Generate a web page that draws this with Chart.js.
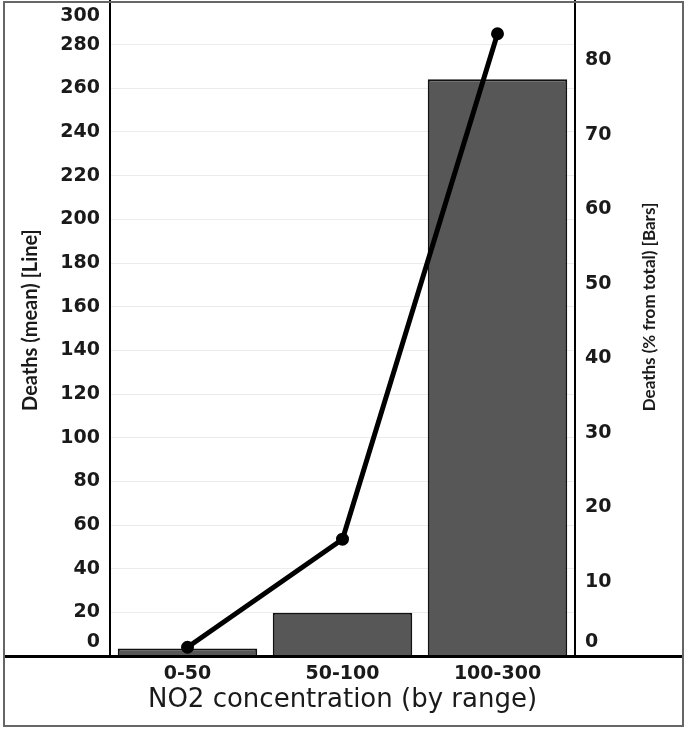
<!DOCTYPE html>
<html>
<head>
<meta charset="utf-8">
<script src="https://cdn.jsdelivr.net/npm/chart.js@4"></script>
<style>
  html, body { margin: 0; padding: 0; background: #fff; }
  #wrap { position: relative; width: 685px; height: 729px; overflow: hidden; }
  #c { position: absolute; left: 0; top: -8px; }
  #frame { position: absolute; left: 3px; top: 1px; width: 681px; height: 726px; box-sizing: border-box; border: 2px solid #666; pointer-events: none; }
  #baseline { position: absolute; left: 4px; top: 655px; width: 679px; height: 3px; background: #000; }
</style>
</head>
<body>
<div id="wrap">
  <canvas id="c" width="685" height="737"></canvas>
  <div id="baseline"></div>
  <div id="frame"></div>
</div>
<script>
// ---- data ----
const categories = ['0-50', '50-100', '100-300'];
const deathsMeanLine = [4, 53.5, 285];      // left axis
const deathsPercentBars = [1.0, 5.8, 77.5]; // right axis
const leftTicks = [0, 20, 40, 60, 80, 100, 120, 140, 160, 180, 200, 220, 240, 260, 280, 300];
const rightTicks = [0, 10, 20, 30, 40, 50, 60, 70, 80];
const leftTitle = 'Deaths (mean) [Line]';
const rightTitle = 'Deaths (% from total) [Bars]';
const xTitle = 'NO2 concentration (by range)';

const TXT = '#1a1a1a';
const tickFamily = '"DejaVu Sans", sans-serif';
const titleFamily = 'Lato, "Noto Sans", sans-serif';

function fixWidth(w) {
  return function (scale) { scale.width = w; scale.paddingTop = 0; scale.paddingBottom = 0; };
}

// axis titles that read bottom-to-top on both sides
const axisTitlePlugin = {
  id: 'axisTitles',
  afterDraw(chart) {
    const ctx = chart.ctx;
    const draw = (text, x, y, size) => {
      ctx.save();
      ctx.translate(x, y);
      ctx.rotate(-Math.PI / 2);
      ctx.font = 'bold ' + size + 'px ' + titleFamily;
      ctx.fillStyle = TXT;
      ctx.textAlign = 'center';
      ctx.textBaseline = 'middle';
      ctx.fillText(text, 0, 0);
      ctx.restore();
    };
    // canvas is shifted up by 8px in the page
    draw(leftTitle, 31, 320 + 8, 20);
    draw(rightTitle, 650, 307 + 8, 17);
  }
};

new Chart(document.getElementById('c'), {
  data: {
    labels: categories,
    datasets: [
      {
        type: 'line',
        label: 'Deaths (mean)',
        data: deathsMeanLine,
        yAxisID: 'yL',
        borderColor: '#000',
        borderWidth: 5,
        pointRadius: 4,
        pointBackgroundColor: '#000',
        pointBorderColor: '#000',
        tension: 0,
        order: 0
      },
      {
        type: 'bar',
        label: 'Deaths (%)',
        data: deathsPercentBars,
        yAxisID: 'yR',
        backgroundColor: '#575757',
        borderColor: '#111',
        borderWidth: 2,
        barPercentage: 0.9,
        categoryPercentage: 1.0,
        order: 1
      }
    ]
  },
  options: {
    responsive: false,
    animation: false,
    layout: { padding: 0 },
    plugins: { legend: { display: false }, tooltip: { enabled: false } },
    scales: {
      x: {
        type: 'category',
        grid: { display: false, drawTicks: false },
        border: { display: true, color: '#000', width: 3 },
        ticks: { color: TXT, font: { family: tickFamily, size: 19, weight: 'bold' }, padding: 7 },
        title: {
          display: true,
          text: xTitle,
          color: TXT,
          font: { family: tickFamily, size: 26, weight: 'normal' },
          padding: { top: 0, bottom: 13 }
        },
        afterFit(scale) { scale.height = 73; scale.paddingLeft = 0; scale.paddingRight = 0; }
      },
      yL: {
        type: 'linear',
        position: 'left',
        min: 0,
        max: 300,
        afterBuildTicks(scale) { scale.ticks = leftTicks.map(v => ({ value: v })); },
        grid: { color: '#ececec', lineWidth: 1, drawTicks: false },
        border: { display: true, color: '#000', width: 2 },
        ticks: {
          autoSkip: false,
          color: TXT,
          padding: 10,
          callback: (v) => v === 0 ? ['0', ''] : (v === 300 ? ['', '300'] : String(v)),
          font: (ctx) => {
            const v = ctx.tick ? ctx.tick.value : null;
            return { family: tickFamily, size: 19, weight: 'bold',
                     lineHeight: v === 0 ? '28px' : (v === 300 ? '30px' : 1.2) };
          }
        },
        title: { display: false },
        afterFit: fixWidth(110)
      },
      yR: {
        type: 'linear',
        position: 'right',
        min: 0,
        max: 88,
        afterBuildTicks(scale) { scale.ticks = rightTicks.map(v => ({ value: v })); },
        grid: { display: false, drawTicks: false },
        border: { display: true, color: '#000', width: 2 },
        ticks: {
          autoSkip: false,
          color: TXT,
          padding: 10,
          callback: (v) => v === 0 ? ['0', ''] : String(v),
          font: (ctx) => {
            const v = ctx.tick ? ctx.tick.value : null;
            return { family: tickFamily, size: 19, weight: 'bold',
                     lineHeight: v === 0 ? '28px' : 1.2 };
          }
        },
        title: { display: false },
        afterFit: fixWidth(110)
      }
    }
  },
  plugins: [axisTitlePlugin]
});
</script>
</body>
</html>
